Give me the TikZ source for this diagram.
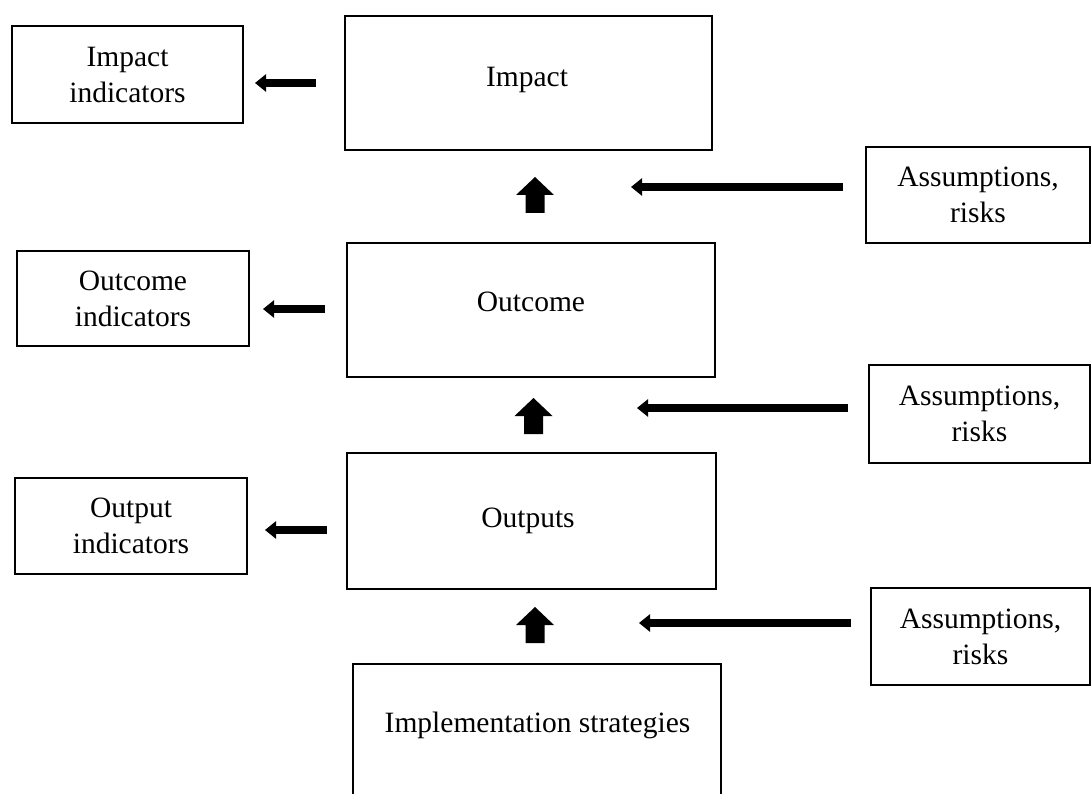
\documentclass[tikz,border=0pt]{standalone}
\usepackage{fontspec}
\setmainfont{Liberation Serif}
\usetikzlibrary{arrows.meta}

\tikzset{
  txt/.style={font=\fontsize{29.5}{36}\selectfont},
  box/.style={draw, line width=2.8pt, rectangle, inner sep=0pt, outer sep=0pt,
    align=center, txt},
  caption/.style={txt, anchor=base, inner sep=0pt},
  harrow/.style={line width=7.5pt, -{Triangle[length=11pt,width=17pt]}},
  blockup/.pic={
    \fill (0,0) -- (19,18) -- (9.5,18) -- (9.5,36) -- (-9.5,36) -- (-9.5,18) -- (-19,18) -- cycle;
  }
}

\begin{document}
\begin{tikzpicture}[x=1pt,y=-1pt]
  \useasboundingbox (0,0) rectangle (1092,794);
  \clip (0,0) rectangle (1092,794);
  \fill[white] (0,0) rectangle (1092,794);

  % central chain
  \node[box, minimum width=367pt, minimum height=134pt] (impact)  at (528.5,83)  {};
  \node[box, minimum width=368pt, minimum height=134pt] (outcome) at (531,310)   {};
  \node[box, minimum width=369pt, minimum height=136pt] (outputs) at (531.5,521) {};
  \node[box, minimum width=368pt, minimum height=152pt, anchor=north] (impl) at (537,664) {};
  \node[caption] (impacttext)  at (527,87)    {Impact};
  \node[caption] (outcometext) at (531,312)   {Outcome};
  \node[caption] (outputstext) at (528,527)   {Outputs};
  \node[caption] (impltext)    at (537.5,732) {Implementation strategies};

  % indicators
  \node[box, minimum width=231pt, minimum height=97pt] (impind)  at (127.5,74.5) {Impact\\indicators};
  \node[box, minimum width=232pt, minimum height=95pt] (outind)  at (133,298.5)  {Outcome\\indicators};
  \node[box, minimum width=232pt, minimum height=96pt] (outpind) at (131,526)    {Output\\indicators};

  % assumptions and risks
  \node[box, minimum width=224pt, minimum height=96pt] (as1) at (978,195)    {Assumptions,\\risks};
  \node[box, minimum width=221pt, minimum height=98pt] (as2) at (979.5,414)  {Assumptions,\\risks};
  \node[box, minimum width=219pt, minimum height=97pt] (as3) at (980.5,636.5) {Assumptions,\\risks};

  % arrows towards the indicators
  \draw[harrow, shorten <=29pt, shorten >=12pt] (impact.west) -- (impact.west -| impind.east);
  \draw[harrow, shorten <=22pt, shorten >=14pt] ([yshift=1pt]outcome.west) -- ([yshift=1pt]outcome.west -| outind.east);
  \draw[harrow, shorten <=20pt, shorten >=18pt] ([yshift=-9pt]outputs.west) -- ([yshift=-9pt]outputs.west -| outpind.east);

  % arrows from the assumptions
  \coordinate (t1) at (631,187);
  \coordinate (t2) at (637,408);
  \coordinate (t3) at (639,623);
  \draw[harrow, shorten <=23pt] (as1.west |- t1) -- (t1);
  \draw[harrow, shorten <=21pt] (as2.west |- t2) -- (t2);
  \draw[harrow, shorten <=20pt] (as3.west |- t3) -- (t3);

  % block arrows between levels
  \pic at (535,177)   {blockup};
  \pic at (533.5,398) {blockup};
  \pic at (535,607)   {blockup};
\end{tikzpicture}
\end{document}
